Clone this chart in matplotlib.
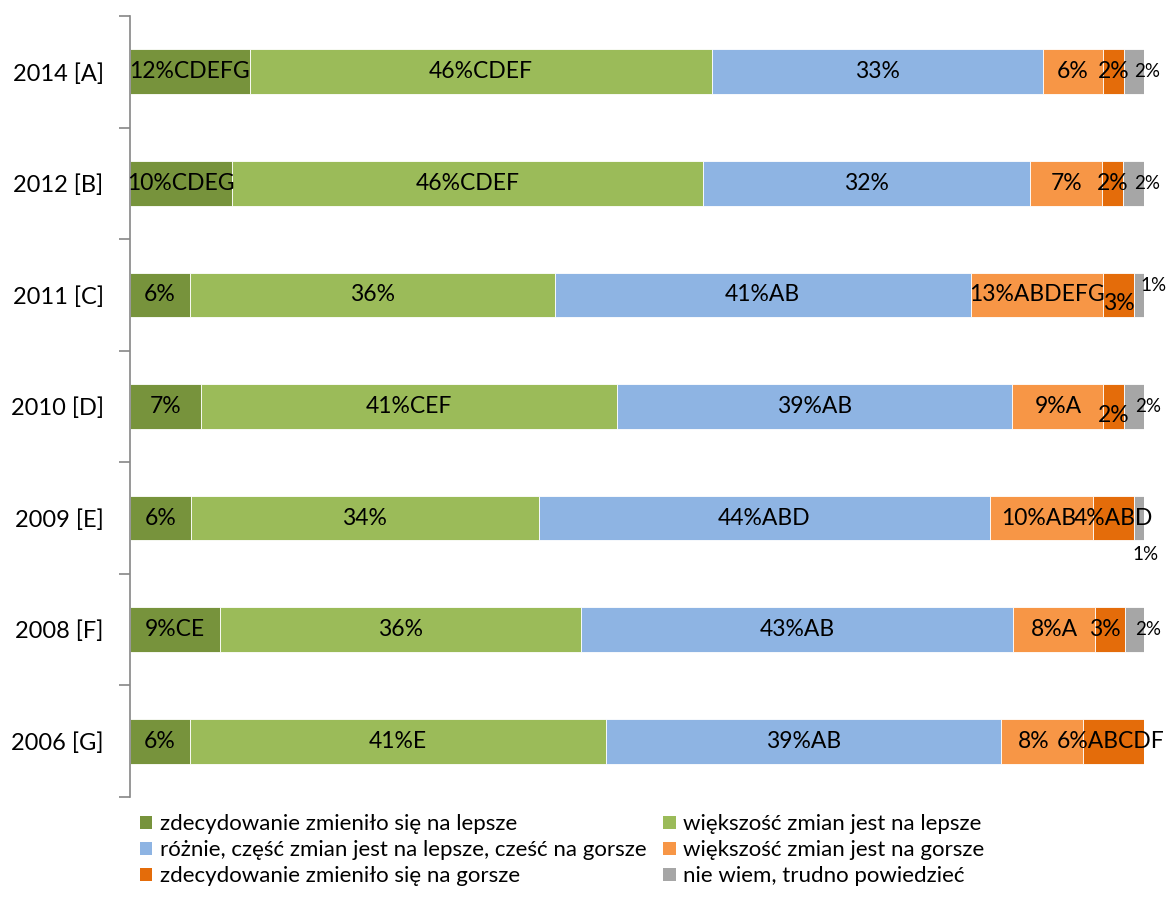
import matplotlib
matplotlib.use('Agg')
import matplotlib.pyplot as plt
from matplotlib.patches import Patch

plt.rcParams['font.family'] = ['Lato', 'DejaVu Sans']

years = ['2014 [A]', '2012 [B]', '2011 [C]', '2010 [D]', '2009 [E]', '2008 [F]', '2006 [G]']

series_names = [
    'zdecydowanie zmieniło się na lepsze',
    'większość zmian jest na lepsze',
    'różnie, część zmian jest na lepsze, cześć na gorsze',
    'większość zmian jest na gorsze',
    'zdecydowanie zmieniło się na gorsze',
    'nie wiem, trudno powiedzieć',
]
colors = ['#77933C', '#9BBB59', '#8EB4E3', '#F79646', '#E46C0A', '#A6A6A6']

much_better = [11.8, 10.1, 5.9, 7.0, 6.0, 8.9, 5.9]
mostly_better = [45.6, 46.4, 36.0, 41.0, 34.3, 35.6, 41.0]
mixed = [32.6, 32.3, 41.0, 39.0, 44.5, 42.6, 39.0]
mostly_worse = [6.0, 7.1, 13.1, 9.0, 10.2, 8.1, 8.1]
much_worse = [2.0, 2.0, 3.0, 2.0, 4.0, 2.9, 6.0]
dont_know = [2.0, 2.1, 1.0, 2.1, 1.0, 2.0, 0.0]

lab_much_better = ['12%CDEFG', '10%CDEG', '6%', '7%', '6%', '9%CE', '6%']
lab_mostly_better = ['46%CDEF', '46%CDEF', '36%', '41%CEF', '34%', '36%', '41%E']
lab_mixed = ['33%', '32%', '41%AB', '39%AB', '44%ABD', '43%AB', '39%AB']
lab_mostly_worse = ['6%', '7%', '13%ABDEFG', '9%A', '10%AB', '8%A', '8%']
lab_much_worse = ['2%', '2%', '3%', '2%', '4%ABD', '3%', '6%ABCDF']
lab_dont_know = ['2%', '2%', '1%', '2%', '1%', '2%', '']

series = [much_better, mostly_better, mixed, mostly_worse, much_worse, dont_know]
labels = [lab_much_better, lab_mostly_better, lab_mixed, lab_mostly_worse,
          lab_much_worse, lab_dont_know]

fig = plt.figure(figsize=(11.67, 8.97), dpi=100)
ax = fig.add_axes([0.1114, 0.1115, 0.8689, 0.8707])

ypos = list(range(len(years)))
left = [0.0] * len(years)
for k, (vals, labs, col) in enumerate(zip(series, labels, colors)):
    ax.barh(ypos, vals, left=left, height=0.4, color=col,
            edgecolor='white', linewidth=0.6)
    for i, (v, t) in enumerate(zip(vals, labs)):
        if not t:
            continue
        x = left[i] + v / 2
        y = ypos[i]
        size = 16.5
        if k == 5:
            # small grey labels sit outside the bar end
            size = 13.5
            x = left[i] + v + 0.3
            if i == 2:
                x += 0.6
                y -= 0.08
            if i == 4:
                x -= 0.2
                y += 0.33
        elif k == 4:
            if i in (2, 3):
                y += 0.08
            if i == 6:
                x -= 0.3
            if i == 5:
                x -= 0.5
        elif k == 3 and i == 6:
            x -= 0.8
        elif k == 3 and i == 4:
            x -= 0.3
        ax.text(x, y, t, ha='center', va='center', fontsize=size, color='black')
    left = [l + v for l, v in zip(left, vals)]

ax.set_xlim(0, 100)
ax.set_ylim(len(years) - 0.5, -0.5)
ax.set_yticks(ypos)
ax.set_yticklabels(years, fontsize=17)
ax.set_yticks([k - 0.5 for k in range(len(years) + 1)], minor=True)
ax.tick_params(axis='y', which='major', length=0, pad=19)
ax.tick_params(axis='y', which='minor', length=8, color='#868686', width=1.2)
ax.xaxis.set_visible(False)
for s in ['top', 'right', 'bottom']:
    ax.spines[s].set_visible(False)
ax.spines['left'].set_color('#868686')
ax.spines['left'].set_linewidth(1.2)

handles = [Patch(facecolor=c, edgecolor='none') for c in colors]
order = [0, 2, 4, 1, 3, 5]
fig.legend([handles[k] for k in order], [series_names[k] for k in order],
           ncol=2, loc='upper left', bbox_to_anchor=(0.12, 0.092),
           frameon=False, fontsize=16, handlelength=0.55, handleheight=0.55,
           handletextpad=0.35, columnspacing=0.75, labelspacing=0.27,
           borderpad=0, borderaxespad=0)

fig.savefig('out.png', dpi=100)
